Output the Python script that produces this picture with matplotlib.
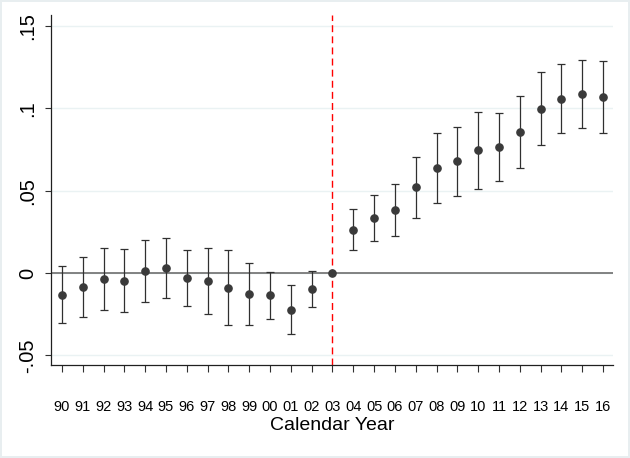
import matplotlib
matplotlib.use("Agg")
import matplotlib.pyplot as plt
import numpy as np

plt.rcParams['font.family'] = ['Liberation Sans', 'DejaVu Sans']

# event-study coefficients by calendar year (2003 = reference)
years = ["90", "91", "92", "93", "94", "95", "96", "97", "98", "99", "00", "01", "02",
         "03", "04", "05", "06", "07", "08", "09", "10", "11", "12", "13", "14", "15", "16"]
coef = [-0.0132, -0.0085, -0.0036, -0.0047, 0.0010, 0.0028, -0.0032, -0.0049, -0.0091,
        -0.0128, -0.0136, -0.0225, -0.0099, 0.0, 0.0261, 0.0334, 0.0381, 0.0521, 0.0636,
        0.0678, 0.0745, 0.0765, 0.0855, 0.0998, 0.1059, 0.1086, 0.1069]
ci_low = [-0.0304, -0.0265, -0.0223, -0.0235, -0.0178, -0.0154, -0.0199, -0.0247, -0.0318,
          -0.0314, -0.0280, -0.0373, -0.0209, 0.0, 0.0138, 0.0196, 0.0223, 0.0336, 0.0423,
          0.0468, 0.0510, 0.0557, 0.0640, 0.0778, 0.0851, 0.0881, 0.0852]
ci_high = [0.0041, 0.0095, 0.0152, 0.0148, 0.0200, 0.0211, 0.0138, 0.0154, 0.0138,
           0.0063, 0.0008, -0.0073, 0.0014, 0.0, 0.0387, 0.0474, 0.0539, 0.0707, 0.0849,
           0.0889, 0.0978, 0.0974, 0.1073, 0.1219, 0.1270, 0.1293, 0.1287]
yticks = [-0.05, 0, 0.05, 0.1, 0.15]
ytick_labels = ["-.05", "0", ".05", ".1", ".15"]
ref_year = "03"

x = np.arange(len(years))
coef = np.array(coef)
lo = coef - np.array(ci_low)
hi = np.array(ci_high) - coef
has_ci = np.array(ci_high) != np.array(ci_low)

fig = plt.figure(figsize=(6.3, 4.58), dpi=100)
fig.patch.set_edgecolor('#e8eef0')
fig.patch.set_linewidth(1.5)
ax = fig.add_axes([0.0817, 0.203, 0.8913, 0.764])

for yv in yticks:
    ax.axhline(yv, color='#eaf2f3', lw=1, zorder=0)
ax.axhline(0, color='#6e6e6e', lw=1.2, zorder=1)
ax.axvline(years.index(ref_year), color='red', lw=1, ls=(0, (5, 3)), zorder=2)

ax.errorbar(x[has_ci], coef[has_ci], yerr=[lo[has_ci], hi[has_ci]], fmt='none',
            ecolor='#303030', elinewidth=0.9, capsize=2.6, capthick=0.9, zorder=3)
ax.plot(x, coef, 'o', color='#3a3a3a', ms=5.2, zorder=4)

ax.set_xlim(-0.5, len(years) - 0.52)
ax.set_ylim(-0.0559, 0.1567)
ax.set_xticks(x)
ax.set_xticklabels(years, fontsize=10.5)
ax.set_yticks(yticks)
ax.set_yticklabels(ytick_labels, fontsize=14.5, rotation=90, va='center')
ax.tick_params(axis='x', length=5, width=0.8, pad=20, color='#303030')
ax.tick_params(axis='y', length=4, width=0.8, pad=6, color='#303030')
ax.set_xlabel("Calendar Year", fontsize=14, labelpad=2)

for s in ['top', 'right']:
    ax.spines[s].set_visible(False)
for s in ['left', 'bottom']:
    ax.spines[s].set_linewidth(0.9)
    ax.spines[s].set_color('#202020')

fig.savefig("out.png", dpi=100)
